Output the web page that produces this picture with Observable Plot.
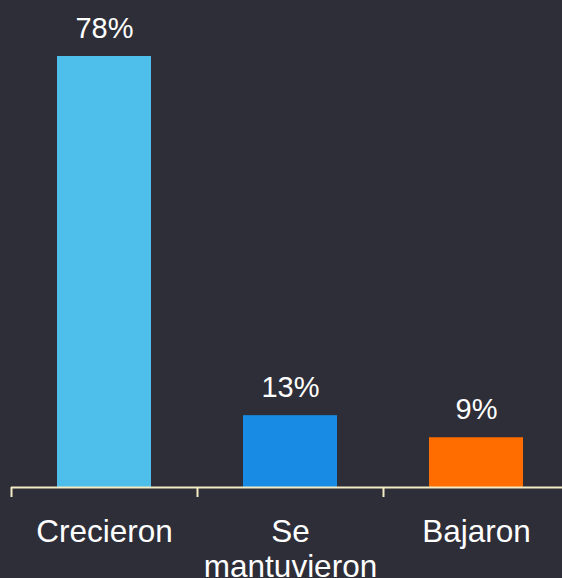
<!DOCTYPE html>
<html>
<head>
<meta charset="utf-8">
<script src="https://cdn.jsdelivr.net/npm/d3@7"></script>
<script src="https://cdn.jsdelivr.net/npm/@observablehq/plot@0.6"></script>
<style>
  html, body { margin: 0; padding: 0; background: #2e2e38; }
  #chart { width: 562px; height: 578px; overflow: hidden; }
</style>
</head>
<body>
<div id="chart"></div>
<script>
const categories = ["Crecieron", "Se mantuvieron", "Bajaron"];
const tickLabels = ["Crecieron", "Se\nmantuvieron", "Bajaron"];
const values = [78, 13, 9];
const barColors = ["#4ebeeb", "#188ce5", "#ff6d00"];

const data = categories.map((c, i) => ({cat: c, label: tickLabels[i], value: values[i]}));

const axisColor = "#f2ebc4";

const chart = Plot.plot({
  width: 562,
  height: 578,
  marginLeft: 11,
  marginRight: 0,
  marginTop: 56,
  marginBottom: 91,
  style: {background: "#2e2e38", fontFamily: "Liberation Sans, Arial, sans-serif", color: "white"},
  x: {type: "band", domain: categories, range: [11, 569], padding: 0, axis: null},
  y: {domain: [0, 78], axis: null},
  color: {domain: categories, range: barColors},
  marks: [
    Plot.barY(data, {x: "cat", y: "value", fill: "cat", insetLeft: 46, insetRight: 46}),
    Plot.text(data, {x: "cat", y: "value", text: d => d.value + "%", dy: -19, lineAnchor: "bottom", fill: "white", fontSize: 29}),
    Plot.ruleY([0], {stroke: axisColor, strokeWidth: 2}),
    Plot.ruleX(categories, {x: d => d, y1: 0, y2: 0, insetBottom: -10, dx: -93, stroke: axisColor, strokeWidth: 2}),
    Plot.text(data, {x: "cat", text: "label", frameAnchor: "bottom", lineAnchor: "top", dy: 30, fontSize: 31.5, lineHeight: 1.1, fill: "white"})
  ]
});
document.getElementById("chart").appendChild(chart);
</script>
</body>
</html>
